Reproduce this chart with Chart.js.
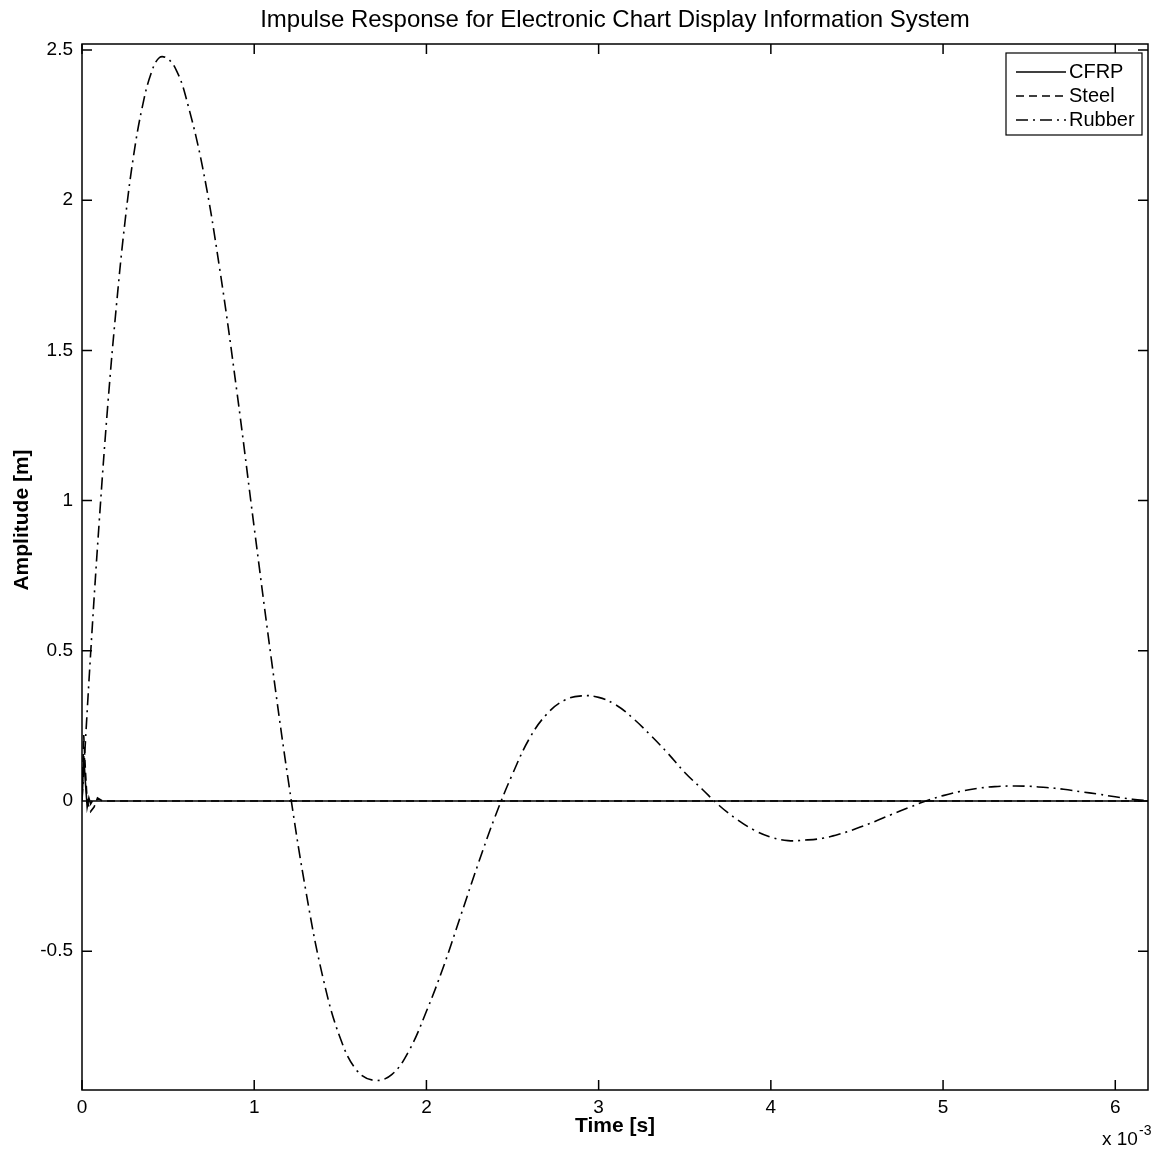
<!DOCTYPE html>
<html>
<head>
<meta charset="utf-8">
<script src="https://cdn.jsdelivr.net/npm/chart.js@4.4.0/dist/chart.umd.min.js"></script>
<style>
  html, body { margin: 0; padding: 0; background: #fff; }
</style>
</head>
<body>
<canvas id="impulseChart" width="1159" height="1152"></canvas>
<script>
// time axis is in units of 1e-3 s (shown as "x 10^-3")
const rubberTime = [0, 0.05, 0.1, 0.15, 0.2, 0.25, 0.3, 0.35, 0.4, 0.45, 0.5, 0.55, 0.6,
    0.7, 0.8, 0.9, 1.0, 1.1, 1.2, 1.3, 1.4, 1.5, 1.6, 1.7, 1.8, 1.9, 2.0,
    2.1, 2.2, 2.3, 2.4, 2.5, 2.6, 2.7, 2.8, 2.9, 3.0, 3.1, 3.2, 3.3, 3.4,
    3.5, 3.6, 3.7, 3.8, 3.9, 4.0, 4.1, 4.2, 4.3, 4.4, 4.5, 4.6, 4.7, 4.8,
    4.9, 5.0, 5.1, 5.2, 5.3, 5.4, 5.5, 5.6, 5.7, 5.8, 5.9, 6.0, 6.1, 6.2];
const rubberAmp = [0, 0.49, 0.93, 1.32, 1.65, 1.93, 2.15, 2.31, 2.42, 2.475, 2.47, 2.43, 2.35,
    2.11, 1.77, 1.36, 0.91, 0.47, 0.06, -0.30, -0.59, -0.79, -0.90, -0.93, -0.91, -0.83, -0.70,
    -0.55, -0.38, -0.21, -0.05, 0.09, 0.21, 0.29, 0.335, 0.35, 0.345, 0.32, 0.275, 0.22, 0.16,
    0.095, 0.04, -0.015, -0.06, -0.096, -0.12, -0.132, -0.13, -0.124, -0.11, -0.091, -0.069, -0.045, -0.022,
    0.0, 0.018, 0.032, 0.042, 0.048, 0.05, 0.049, 0.045, 0.039, 0.031, 0.023, 0.014, 0.006, 0.0];

const cfrpTime = [0, 0.01, 0.02, 0.03, 0.04, 0.05, 0.06, 0.08, 0.1, 6.2];
const cfrpAmp = [0, 0.15, 0.06, -0.02, 0.01, -0.01, 0, 0, 0, 0];

const steelTime = [0, 0.01, 0.02, 0.03, 0.05, 0.07, 0.09, 0.12, 6.2];
const steelAmp = [0, 0.22, 0.10, 0.0, -0.035, -0.02, 0.01, 0, 0];

const seriesNames = ['CFRP', 'Steel', 'Rubber'];

const FONT = '"Liberation Sans", Arial, Helvetica, sans-serif';
const TICK = 10;

function toPoints(xs, ys) {
    return xs.map((v, i) => ({ x: v, y: ys[i] }));
}

// MATLAB-like box, inward ticks, titles, exponent label and legend
const matlabFrame = {
    id: 'matlabFrame',
    afterDatasetsDraw(chart) {
        const { ctx, chartArea: a, scales: { x, y } } = chart;
        ctx.save();
        ctx.strokeStyle = '#000';
        ctx.lineWidth = 1.5;
        ctx.setLineDash([]);
        ctx.strokeRect(a.left, a.top, a.right - a.left, a.bottom - a.top);

        ctx.beginPath();
        x.ticks.forEach(t => {
            const px = x.getPixelForValue(t.value);
            ctx.moveTo(px, a.bottom); ctx.lineTo(px, a.bottom - TICK);
            ctx.moveTo(px, a.top); ctx.lineTo(px, a.top + TICK);
        });
        y.ticks.forEach(t => {
            const py = y.getPixelForValue(t.value);
            ctx.moveTo(a.left, py); ctx.lineTo(a.left + TICK, py);
            ctx.moveTo(a.right, py); ctx.lineTo(a.right - TICK, py);
        });
        ctx.stroke();

        ctx.fillStyle = '#000';

        // title, centred over the axes
        ctx.textAlign = 'center';
        ctx.textBaseline = 'middle';
        ctx.font = '24px ' + FONT;
        ctx.fillText('Impulse Response for Electronic Chart Display Information System', (a.left + a.right) / 2, 20);

        // y label
        ctx.save();
        ctx.translate(22, 520);
        ctx.rotate(-Math.PI / 2);
        ctx.font = 'bold 21px ' + FONT;
        ctx.fillText('Amplitude [m]', 0, 0);
        ctx.restore();

        // exponent
        ctx.textAlign = 'left';
        ctx.textBaseline = 'alphabetic';
        ctx.font = '19px ' + FONT;
        ctx.fillText('x 10', 1102, 1145);
        ctx.font = '14px ' + FONT;
        ctx.fillText('-3', 1139, 1135);

        // legend
        const lx = 1006, ly = 53, lw = 136, lh = 82;
        ctx.fillStyle = '#fff';
        ctx.fillRect(lx, ly, lw, lh);
        ctx.lineWidth = 1.2;
        ctx.strokeRect(lx, ly, lw, lh);
        ctx.font = '20px ' + FONT;
        ctx.textBaseline = 'middle';
        chart.data.datasets.forEach((ds, i) => {
            const yy = ly + 19 + i * 24;
            ctx.beginPath();
            ctx.setLineDash(ds.borderDash || []);
            ctx.lineWidth = ds.borderWidth;
            ctx.moveTo(lx + 10, yy);
            ctx.lineTo(lx + 60, yy);
            ctx.stroke();
            ctx.setLineDash([]);
            ctx.fillStyle = '#000';
            ctx.fillText(ds.label, lx + 63, yy);
        });
        ctx.restore();
    }
};

const lineStyle = {
    borderColor: '#000',
    borderWidth: 1.6,
    pointRadius: 0,
    fill: false,
    tension: 0.4
};

new Chart(document.getElementById('impulseChart'), {
    type: 'line',
    data: {
        datasets: [
            { ...lineStyle, label: seriesNames[0], data: toPoints(cfrpTime, cfrpAmp), tension: 0 },
            { ...lineStyle, label: seriesNames[1], data: toPoints(steelTime, steelAmp), borderDash: [8, 5], tension: 0 },
            { ...lineStyle, label: seriesNames[2], data: toPoints(rubberTime, rubberAmp), borderDash: [12, 5, 2, 5] }
        ]
    },
    options: {
        responsive: false,
        animation: false,
        layout: { padding: { top: 44, right: 11, bottom: 0, left: 0 } },
        plugins: {
            legend: { display: false },
            tooltip: { enabled: false },
            title: { display: false }
        },
        scales: {
            x: {
                type: 'linear',
                min: 0,
                max: 6.19,
                grid: { display: false, drawTicks: false },
                border: { display: false },
                ticks: {
                    stepSize: 1,
                    includeBounds: false,
                    color: '#000',
                    padding: 6,
                    font: { family: FONT, size: 19 }
                },
                title: {
                    display: true,
                    text: 'Time [s]',
                    color: '#000',
                    font: { family: FONT, size: 21, weight: 'bold' },
                    padding: { top: 0, bottom: 13 }
                },
                afterFit: scale => { scale.height = 62; }
            },
            y: {
                type: 'linear',
                min: -0.962,
                max: 2.52,
                grid: { display: false, drawTicks: false },
                border: { display: false },
                ticks: {
                    stepSize: 0.5,
                    includeBounds: false,
                    color: '#000',
                    padding: 9,
                    font: { family: FONT, size: 19 },
                    callback: v => String(Math.round(v * 10) / 10)
                },
                afterFit: scale => { scale.width = 82; }
            }
        }
    },
    plugins: [matlabFrame]
});
</script>
</body>
</html>
